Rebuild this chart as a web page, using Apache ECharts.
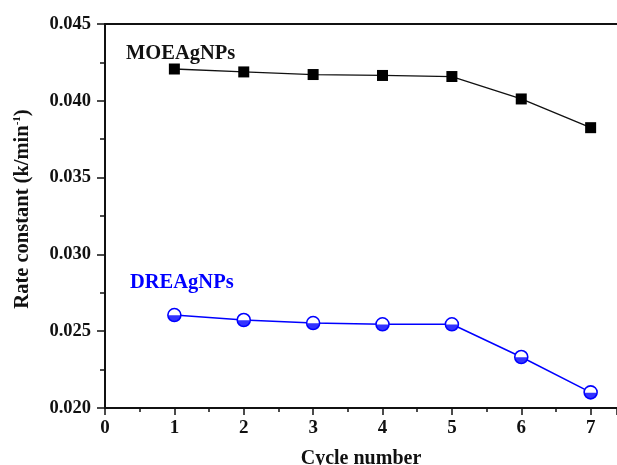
<!DOCTYPE html>
<html><head><meta charset="utf-8">
<script src="https://cdn.jsdelivr.net/npm/echarts@6/dist/echarts.min.js"></script>
<style>html,body{margin:0;padding:0;background:#fff;overflow:hidden}#c{width:617px;height:465px}</style>
</head><body><div id="c"></div>
<script>
const cycles = [1, 2, 3, 4, 5, 6, 7];
const moeValues = [0.04207, 0.04188, 0.04171, 0.04165, 0.04158, 0.04012, 0.03825];
const dreValues = [0.02605, 0.02573, 0.02553, 0.02545, 0.02545, 0.02332, 0.02102];
const seriesNames = ['MOEAgNPs', 'DREAgNPs'];
const xTicks = [0, 1, 2, 3, 4, 5, 6, 7];
const yTicks = [0.020, 0.025, 0.030, 0.035, 0.040, 0.045];

const font = 'Liberation Serif';
const lowerHalf = 'path://M-10,0L10,0A10,10 0 0,1 -10,0Z';

const chart = echarts.init(document.getElementById('c'), null, {renderer: 'canvas'});
chart.setOption({
  backgroundColor: '#fff',
  animation: false,
  grid: {left: 105, top: 24, right: 0, bottom: 57, containLabel: false, outerBoundsMode: 'none'},
  xAxis: [{
    type: 'value', min: 0, max: 7.38, interval: 1,
    name: 'Cycle number', nameLocation: 'middle', nameGap: 41,
    nameTextStyle: {fontFamily: font, fontWeight: 'bold', fontSize: 20, color: '#111'},
    axisLine: {show: true, onZero: false, lineStyle: {color: '#111', width: 2}},
    axisTick: {show: true, inside: false, length: 7, lineStyle: {color: '#111', width: 1.5}},
    minorTick: {show: true, splitNumber: 2, length: 4, lineStyle: {color: '#111', width: 1.5}},
    axisLabel: {fontFamily: font, fontWeight: 'bold', fontSize: 19, color: '#111', margin: 11,
      showMaxLabel: false, formatter: v => xTicks.includes(v) ? String(v) : ''},
    splitLine: {show: false}
  }, {
    type: 'value', min: 0, max: 7.38, position: 'top',
    axisLine: {show: true, lineStyle: {color: '#111', width: 1.8}},
    axisTick: {show: false}, axisLabel: {show: false}, splitLine: {show: false}
  }],
  yAxis: {
    type: 'value', min: 0.020, max: 0.045, interval: 0.005,
    name: '{a|Rate constant (k/min}{s|-1}{a|)}', nameLocation: 'middle', nameGap: 72, nameRotate: 90,
    nameTextStyle: {padding: [0, 0, 0, 14], rich: {
      a: {fontFamily: font, fontWeight: 'bold', fontSize: 20.5, color: '#111'},
      s: {fontFamily: font, fontWeight: 'bold', fontSize: 11, color: '#111', verticalAlign: 'top', padding: [0, 0, 10, 0]}
    }},
    axisLine: {show: true, lineStyle: {color: '#111', width: 2}},
    axisTick: {show: true, inside: false, length: 8, lineStyle: {color: '#111', width: 1.5}},
    minorTick: {show: true, splitNumber: 2, length: 5, lineStyle: {color: '#111', width: 1.5}},
    axisLabel: {fontFamily: font, fontWeight: 'bold', fontSize: 18.5, color: '#111', margin: 14,
      formatter: v => v.toFixed(3)},
    splitLine: {show: false}
  },
  graphic: [
    {type: 'text', left: 126, top: 43, style: {text: seriesNames[0], fontFamily: font, fontWeight: 'bold', fontSize: 20.5, fill: '#111'}},
    {type: 'text', left: 130, top: 272, style: {text: seriesNames[1], fontFamily: font, fontWeight: 'bold', fontSize: 20.5, fill: '#0000ff'}}
  ],
  series: [{
    name: seriesNames[0], type: 'line',
    data: cycles.map((c, i) => [c, moeValues[i]]),
    symbol: 'rect', symbolSize: 11,
    lineStyle: {color: '#111', width: 1.3},
    itemStyle: {color: '#000', borderColor: '#000', borderWidth: 0}
  }, {
    name: seriesNames[1], type: 'line',
    data: cycles.map((c, i) => [c, dreValues[i]]),
    symbol: 'circle', symbolSize: 13,
    lineStyle: {color: '#0000ff', width: 1.5},
    itemStyle: {color: '#fff', borderColor: '#0000ff', borderWidth: 1.6}
  }, {
    name: seriesNames[1] + ' fill', type: 'scatter',
    data: cycles.map((c, i) => [c, dreValues[i]]),
    symbol: lowerHalf, symbolSize: [12, 6], symbolOffset: [0, 3.3], symbolKeepAspect: false,
    itemStyle: {color: '#0000ff'}, z: 5
  }]
});
</script></body></html>
